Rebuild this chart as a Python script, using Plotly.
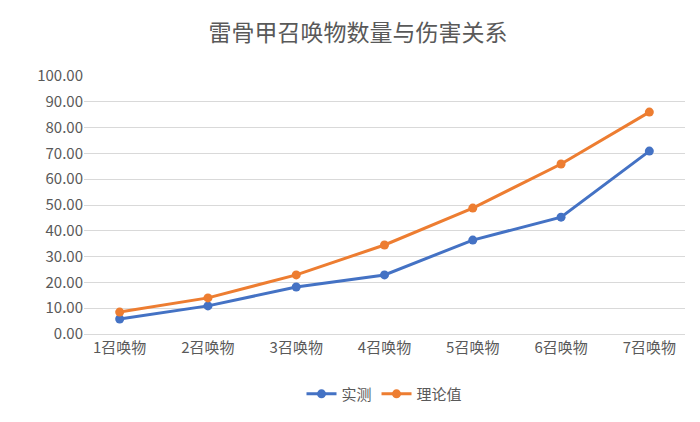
import plotly.graph_objects as go

categories = ["1召唤物", "2召唤物", "3召唤物", "4召唤物", "5召唤物", "6召唤物", "7召唤物"]
measured = [5.8, 10.9, 18.2, 22.9, 36.4, 45.3, 70.9]
theory = [8.5, 14.0, 22.9, 34.5, 48.8, 65.9, 86.0]

fig = go.Figure()
fig.add_trace(go.Scatter(x=categories, y=measured, name="实测", mode="lines+markers",
                         line=dict(color="#4472c4", width=3), marker=dict(size=9)))
fig.add_trace(go.Scatter(x=categories, y=theory, name="理论值", mode="lines+markers",
                         line=dict(color="#ed7d31", width=3), marker=dict(size=9)))

fig.update_layout(
    width=700, height=422,
    font=dict(family="Noto Sans CJK SC", color="#595959", size=15),
    title=dict(text="雷骨甲召唤物数量与伤害关系", x=0.5, y=0.94, xanchor="center",
               yanchor="middle", font=dict(size=23, color="#595959")),
    plot_bgcolor="white", paper_bgcolor="white",
    margin=dict(l=76, r=23, t=68, b=96),
    legend=dict(orientation="h", x=0.5, xanchor="center", y=-0.233, yanchor="middle",
                font=dict(size=15)),
    xaxis=dict(showgrid=False, showline=True, linecolor="#d9d9d9", ticks=""),
    yaxis=dict(range=[0, 100], dtick=10, tickformat=".2f", gridcolor="#d9d9d9",
               zeroline=False, showline=False),
)

fig.write_html("out.html")
